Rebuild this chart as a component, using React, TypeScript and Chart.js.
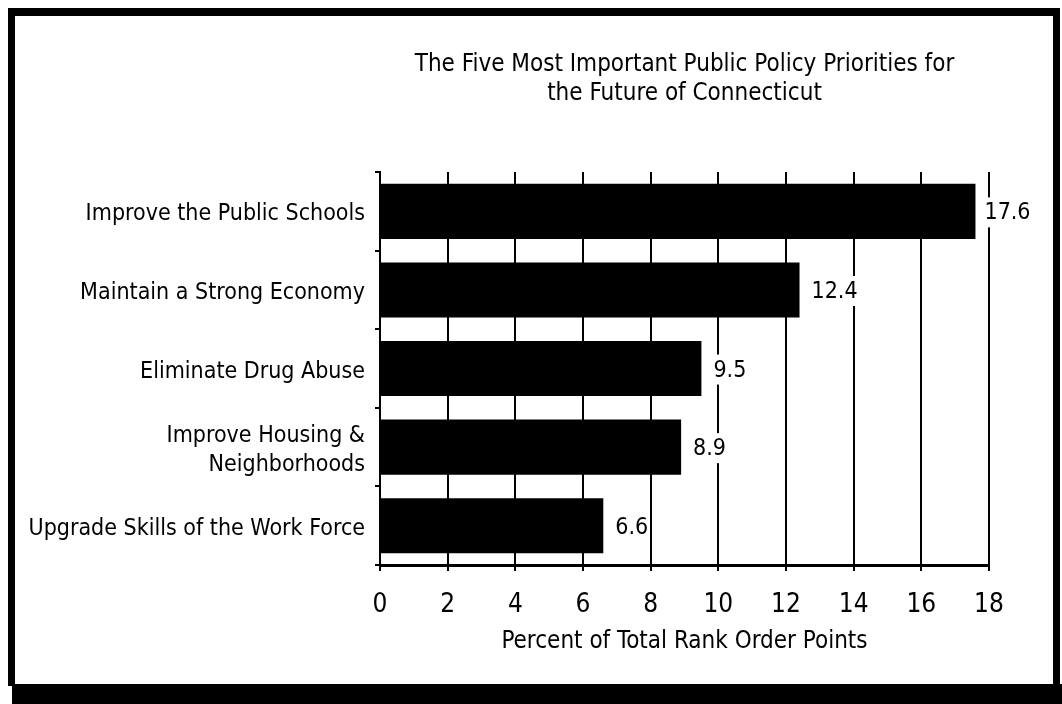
import React, { useEffect, useRef } from "react";
import { Chart, registerables } from "chart.js";

Chart.register(...registerables);

const categories: (string | string[])[] = [
  "Improve the Public Schools",
  "Maintain a Strong Economy",
  "Eliminate Drug Abuse",
  ["Improve Housing &", "Neighborhoods"],
  "Upgrade Skills of the Work Force",
];
const values: number[] = [17.6, 12.4, 9.5, 8.9, 6.6];
const xTicks: number[] = [0, 2, 4, 6, 8, 10, 12, 14, 16, 18];
const titleLines: string[] = [
  "The Five Most Important Public Policy Priorities for",
  "the Future of Connecticut",
];
const xAxisTitle = "Percent of Total Rank Order Points";

const FONT = "'DejaVu Sans Condensed', sans-serif";

const framePlugin = {
  id: "frame",
  beforeDraw(chart: any) {
    const ctx = chart.ctx;
    ctx.save();
    ctx.fillStyle = "#ffffff";
    ctx.fillRect(0, 0, chart.width, chart.height);
    ctx.fillStyle = "#000000";
    ctx.fillRect(8, 8, 1052, 8); // top
    ctx.fillRect(8, 8, 7, 678); // left
    ctx.fillRect(1053, 12, 7, 678); // right
    ctx.fillRect(12, 684, 1050, 20); // bottom strip
    ctx.restore();
  },
};

const valueLabelPlugin = {
  id: "valueLabels",
  afterDatasetsDraw(chart: any) {
    const ctx = chart.ctx;
    const meta = chart.getDatasetMeta(0);
    ctx.save();
    ctx.font = `23px ${FONT}`;
    ctx.textBaseline = "middle";
    ctx.textAlign = "left";
    meta.data.forEach((bar: any, i: number) => {
      const txt = values[i].toFixed(1);
      const w = ctx.measureText(txt).width;
      const x = bar.x + (i === 0 ? 9 : 12);
      ctx.fillStyle = "#ffffff";
      ctx.fillRect(x - 2, bar.y - 14, w + 3, 30);
      ctx.fillStyle = "#000000";
      ctx.fillText(txt, x, bar.y + 2);
    });
    ctx.restore();
  },
};

export default function App() {
  const ref = useRef<HTMLCanvasElement>(null);
  useEffect(() => {
    if (!ref.current) return;
    const chart = new Chart(ref.current, {
      type: "bar",
      data: {
        labels: categories,
        datasets: [
          {
            data: values,
            backgroundColor: "#000000",
            borderWidth: 0,
            barPercentage: 0.7,
            categoryPercentage: 1,
          },
        ],
      },
      options: {
        indexAxis: "y",
        animation: false,
        responsive: false,
        maintainAspectRatio: false,
        layout: { padding: { top: 50, left: 20, right: 73, bottom: 48 } },
        plugins: {
          legend: { display: false },
          tooltip: { enabled: false },
          title: {
            display: true,
            text: titleLines,
            fullSize: false,
            color: "#000",
            font: { family: FONT, size: 24, weight: "normal", lineHeight: 1.21 },
            padding: { top: 0, bottom: 64 },
          },
        },
        scales: {
          x: {
            type: "linear",
            min: 0,
            max: 18,
            afterBuildTicks: (scale: any) => {
              scale.ticks = xTicks.map((v) => ({ value: v }));
            },
            afterFit: (scale: any) => {
              scale.height = 91;
            },
            grid: {
              color: "#000",
              lineWidth: 2,
              drawTicks: true,
              tickLength: 6,
              tickColor: "#000",
            },
            border: { display: true, color: "#000", width: 3 },
            ticks: {
              color: "#000",
              font: { family: FONT, size: 26, lineHeight: 1.1 },
              padding: 20,
              maxRotation: 0,
            },
            title: {
              display: true,
              text: xAxisTitle,
              color: "#000",
              font: { family: FONT, size: 24, lineHeight: 1.2 },
              padding: { top: 0, bottom: 0 },
            },
          },
          y: {
            type: "category",
            offset: true,
            grid: {
              offset: true,
              drawOnChartArea: false,
              drawTicks: true,
              tickLength: 5,
              color: "#000",
              lineWidth: 2,
            },
            border: { display: true, color: "#000", width: 2 },
            ticks: {
              color: "#000",
              font: { family: FONT, size: 23, lineHeight: 1.26 },
              padding: 10,
              labelOffset: 3,
              crossAlign: "near",
            },
            afterFit: (scale: any) => {
              scale.width = 360;
            },
          },
        },
      },
      plugins: [framePlugin, valueLabelPlugin],
    });
    return () => chart.destroy();
  }, []);
  return (
    <canvas
      ref={ref}
      width={1062}
      height={704}
      style={{ position: "fixed", left: 0, top: 0, width: 1062, height: 704, display: "block" }}
    />
  );
}
